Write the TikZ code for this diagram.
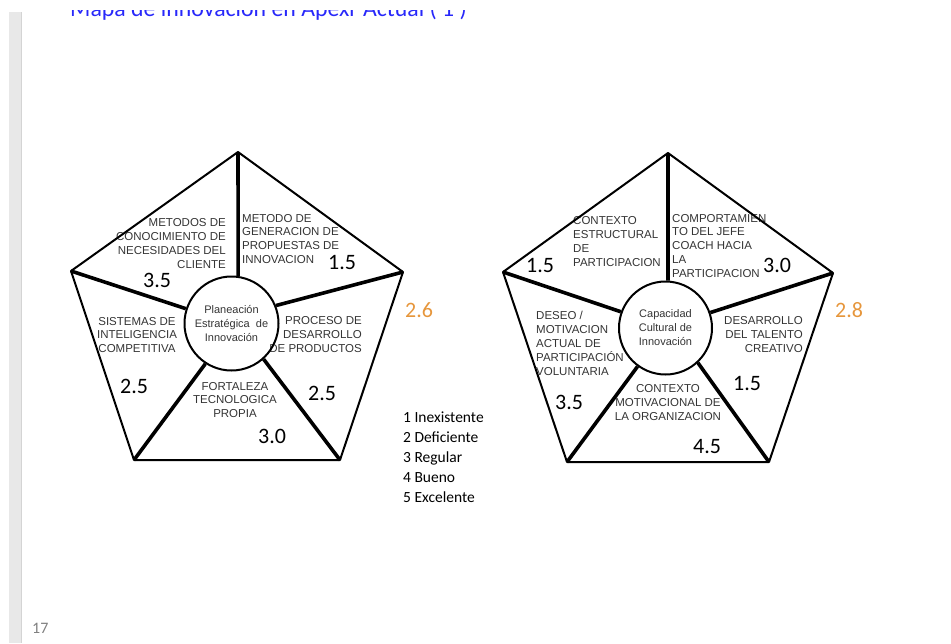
\documentclass[tikz,border=0pt]{standalone}
\usepackage{fontspec}
\setmainfont{Liberation Sans}
\newfontfamily\calib{Carlito}
\definecolor{lblgray}{RGB}{52,52,52}
\definecolor{titleblue}{RGB}{40,40,250}
\definecolor{scoreorange}{RGB}{230,150,60}
\definecolor{barfill}{RGB}{232,232,232}
\definecolor{baredge}{RGB}{212,212,212}
\definecolor{pagegray}{RGB}{128,128,128}
\newcommand\colR[1]{\begin{tabular}[t]{@{}r@{}}#1\end{tabular}}
\newcommand\colL[1]{\begin{tabular}[t]{@{}l@{}}#1\end{tabular}}
\newcommand\colC[1]{\begin{tabular}[t]{@{}c@{}}#1\end{tabular}}
\begin{document}
\begin{tikzpicture}[x=1pt,y=-1pt,
  lbl/.style={font=\fontsize{11.5}{14}\selectfont, text=lblgray, inner sep=0pt},
  num/.style={font=\calib\fontsize{22}{26}\selectfont, inner sep=0pt, anchor=base west},
  avg/.style={num, text=scoreorange},
  pentaedge/.style={line width=2pt, line join=round},
  spoke/.style={line width=3.6pt},
  hub/.style={circle, draw, line width=2pt, inner sep=0pt, font=\fontsize{11}{14}\selectfont, text=lblgray, align=center},
  titlestyle/.style={font=\calib\fontsize{23.8}{28}\selectfont, text=titleblue, inner sep=0pt, anchor=base west},
  legendstyle/.style={font=\calib\fontsize{15.5}{20.2}\selectfont, inner sep=0pt, anchor=base west},
  pagenum/.style={font=\calib\fontsize{16}{19}\selectfont, text=pagegray, inner sep=0pt, anchor=base west}
]
\useasboundingbox (0,0) rectangle (951,643);
% side bar
\fill[barfill] (9,12) rectangle (22,643);
\draw[baredge, line width=1pt] (21.5,12) -- (21.5,643);
% title (top part hidden)
\begin{scope}
\clip (0,10) rectangle (951,643);
\node[titlestyle] (title) at (70,16) {Mapa de innovación en Apexr Actual ( 1 )};
\end{scope}

% ---------- left pentagon labels ----------
\node[lbl, anchor=base east, font=\fontsize{11.5}{14.3}\selectfont] (l1) at (226,226) {\colR{METODOS DE\\CONOCIMIENTO DE\\NECESIDADES DEL\\CLIENTE}};
\node[lbl, anchor=base west, font=\fontsize{11.5}{13.7}\selectfont] (l2) at (242,222) {\colL{METODO DE\\GENERACION DE\\PROPUESTAS DE\\INNOVACION}};
\node[lbl, anchor=base, font=\fontsize{11.5}{13.5}\selectfont] (l3) at (137,325) {\colC{SISTEMAS DE\\INTELIGENCIA\\COMPETITIVA}};
\node[lbl, anchor=base east] (l4) at (362,324) {\colR{PROCESO DE\\DESARROLLO\\DE PRODUCTOS}};
\node[lbl, anchor=base, font=\fontsize{11.5}{13.5}\selectfont] (l5) at (235,390) {\colC{FORTALEZA\\TECNOLOGICA\\PROPIA}};

\node[num] (n1) at (143,287) {3.5};
\node[num] (n2) at (328,269) {1.5};
\node[num] (n3) at (120,393) {2.5};
\node[num] (n4) at (308,400) {2.5};
\node[num] (n5) at (258,443) {3.0};
\node[avg] (avgL) at (405,317) {2.6};

% ---------- right pentagon labels ----------
\node[lbl, anchor=base west] (r1) at (573,224) {\colL{CONTEXTO\\ESTRUCTURAL\\DE\\PARTICIPACION}};
\node[lbl, anchor=base west, font=\fontsize{11.5}{13.8}\selectfont] (r2) at (672,222) {\colL{COMPORTAMIEN\\TO DEL JEFE\\COACH HACIA\\LA\\PARTICIPACION}};
\node[lbl, anchor=base west, font=\fontsize{11.5}{14.2}\selectfont] (r3) at (536,319) {\colL{DESEO /\\MOTIVACION\\ACTUAL DE\\PARTICIPACIÓN\\VOLUNTARIA}};
\node[lbl, anchor=base east] (r4) at (803,324) {\colR{DESARROLLO\\DEL TALENTO\\CREATIVO}};
\node[lbl, anchor=base] (r5) at (668,392) {\colC{CONTEXTO\\MOTIVACIONAL DE\\LA ORGANIZACION}};

\node[num] (m1) at (526,272) {1.5};
\node[num] (m2) at (763,272) {3.0};
\node[num] (m3) at (555,409) {3.5};
\node[num] (m4) at (733,390) {1.5};
\node[num] (m5) at (693,453) {4.5};
\node[avg] (avgR) at (835,317) {2.8};

% ---------- left pentagon shape ----------
\coordinate (LT) at (238,152);
\coordinate (LL) at (71,271);
\coordinate (LR) at (403,272);
\coordinate (LBL) at (134,460);
\coordinate (LBR) at (340,460);
\node[hub, minimum size=94pt] (LC) at (231.5,323.5) {Planeación\\Estratégica\ \ de\\Innovación};
\draw[pentaedge] (LT) -- (LR) -- (LBR) -- (LBL) -- (LL) -- cycle;
\draw[spoke] (LT) -- (LC.82);
\draw[spoke] (LL) -- (LC.162);
\draw[spoke] (LR) -- (LC.22);
\draw[spoke] (LBL) -- (LC.237);
\draw[spoke] (LBR) -- (LC.312);

% ---------- right pentagon shape ----------
\coordinate (RT) at (668,153);
\coordinate (RL) at (503,272);
\coordinate (RR) at (833,273);
\coordinate (RBL) at (567,462);
\coordinate (RBR) at (769,462);
\node[hub, minimum size=93pt] (RC) at (665.5,328) {Capacidad\\Cultural de\\Innovación};
\draw[pentaedge] (RT) -- (RR) -- (RBR) -- (RBL) -- (RL) -- cycle;
\draw[spoke] (RT) -- (RC.87);
\draw[spoke] (RL) -- (RC.160);
\draw[spoke] (RR) -- (RC.19);
\draw[spoke] (RBL) -- (RC.234);
\draw[spoke] (RBR) -- (RC.313);

% ---------- legend ----------
\node[legendstyle] (legend) at (403,422) {\colL{1 Inexistente\\2 Deficiente\\3 Regular\\4 Bueno\\5 Excelente}};
% page number
\node[pagenum] (page) at (32,633) {17};
\end{tikzpicture}
\end{document}
